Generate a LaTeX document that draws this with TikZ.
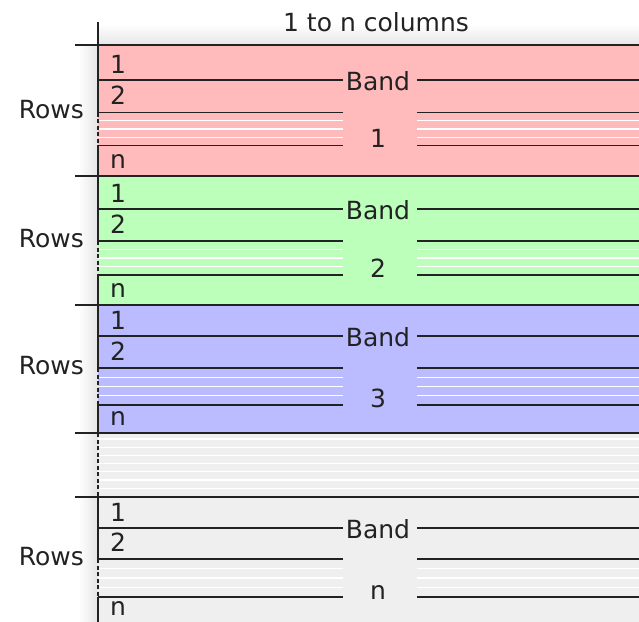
\documentclass[tikz,border=0pt]{standalone}
\usepackage{fontspec}
\setmainfont{DejaVu Sans}
\usetikzlibrary{calc}
\definecolor{bandred}{HTML}{FFBBBB}
\definecolor{bandgreen}{HTML}{BBFFBB}
\definecolor{bandblue}{HTML}{BBBBFF}
\definecolor{bandgray}{HTML}{EFEFEF}
\definecolor{rule}{HTML}{222222}
\tikzset{
  rowrule/.style={draw=rule, line width=1.6pt},
  whiterule/.style={draw=white, line width=1.3pt},
  gaprule/.style={draw=rule, line width=1.6pt, dash pattern=on 4pt off 2.5pt},
  lbl/.style={inner sep=0pt, font=\fontsize{25}{29}\selectfont, text=rule}
}
% one line across the table, broken where the band label sits
\def\splitline#1#2{\draw[#1] (\xaxis,{#2}) -- (\gapl,{#2}); \draw[#1] (\gapr,{#2}) -- (\xend,{#2});}
% name, top, row 1 line, row 2 line, row n line, bottom, colour, number
\def\band#1#2#3#4#5#6#7#8{
  \fill[#7] (\xaxis,#2) rectangle (\xend,#6);
  \splitline{whiterule}{#4+(#5-#4)*0.25}
  \splitline{whiterule}{#4+(#5-#4)*0.5}
  \splitline{whiterule}{#4+(#5-#4)*0.75}
  \splitline{rowrule}{#3}
  \splitline{rowrule}{#4}
  \splitline{rowrule}{#5}
  \draw[rowrule] (\xtick,#2) -- (\xend,#2);
  \draw[rowrule] (\xaxis,#2) -- (\xaxis,#4);
  \draw[gaprule] (\xaxis,#4) -- (\xaxis,#5);
  \draw[rowrule] (\xaxis,#5) -- (\xaxis,#6);
  \node[lbl, anchor=base] (#1band) at (\xmid,#3+10) {Band};
  \node[lbl, anchor=base] (#1num) at (\xmid,#5+2) {#8};
  \node[lbl, anchor=base east] (#1rows) at (84,#4+6) {Rows};
  \node[lbl, anchor=base west] (#1one) at (110,#3-7) {1};
  \node[lbl, anchor=base west] (#1two) at (110,#4-8) {2};
  \node[lbl, anchor=base west] (#1last) at (110,{min(#6,623)-8}) {n};
}

\begin{document}
\begin{tikzpicture}[x=1pt, y=-1pt]
  %%%%% START %%%%%
  \def\xtick{75}
  \def\xaxis{98}
  \def\xend{639}
  \def\gapl{343}
  \def\gapr{417}
  \def\xmid{378}
  \def\gaptop{433}
  \def\gapbot{497}

  \useasboundingbox (0,0) rectangle (639,621);

  % soft shadow round the table
  \shade[left color=white, right color=black!10] (78,45) rectangle (\xaxis,621);
  \shade[top color=white, bottom color=black!10] (\xaxis,24) rectangle (\xend,45);

  \node[lbl, anchor=base] (cols) at (376,31) {1 to n columns};
  \draw[rowrule] (\xaxis,22) -- (\xaxis,45);

  \band{b1}{45}{80}{112.5}{145.5}{176}{bandred}{1}
  \band{b2}{176}{209}{241}{275}{305}{bandgreen}{2}
  \band{b3}{305}{336}{368}{405}{433}{bandblue}{3}

  % bands left out
  \fill[bandgray] (\xaxis,\gaptop) rectangle (\xend,\gapbot);
  \foreach \k in {0,...,6}
    \draw[whiterule] (\xaxis,{439+8.2*\k}) -- (\xend,{439+8.2*\k});
  \draw[rowrule] (\xtick,\gaptop) -- (\xend,\gaptop);
  \draw[gaprule] (\xaxis,\gaptop) -- (\xaxis,\gapbot);

  \band{bn}{497}{528}{559}{597}{625}{bandgray}{n}
  %%%%% END %%%%%
\end{tikzpicture}
\end{document}
